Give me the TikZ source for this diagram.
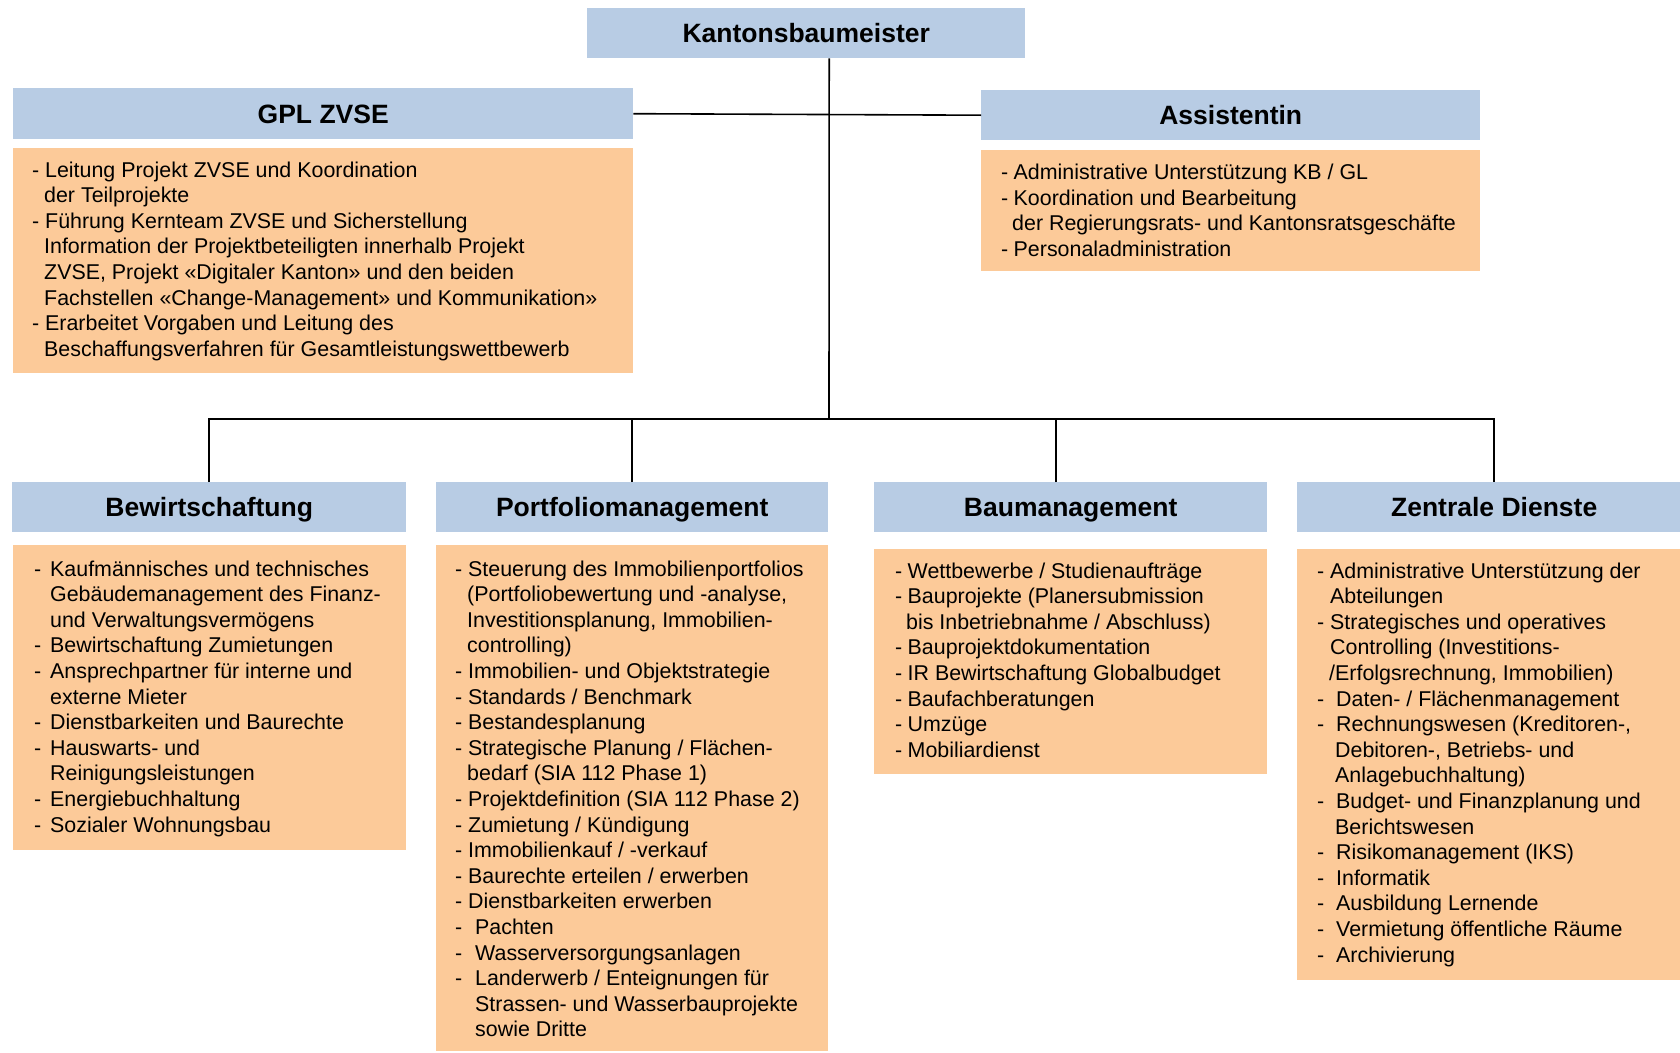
\documentclass[tikz,border=0pt]{standalone}
\usepackage{fontspec}
\setmainfont{Liberation Sans}
\usetikzlibrary{calc}
\definecolor{hdrblue}{RGB}{184,204,228}
\definecolor{bodyor}{RGB}{252,202,153}
\newcommand\Li[2]{\makebox[#1pt][l]{-}#2}
\newcommand\Lc[2]{\hspace*{#1pt}#2}
\begin{document}
\begin{tikzpicture}[x=1pt,y=-1pt,
  hdr/.style={fill=hdrblue, draw=none, inner sep=0pt, anchor=north west, minimum height=50pt, text height=19.4pt, text depth=0pt, font=\fontsize{26.5}{30}\selectfont\bfseries},
  bodybox/.style={fill=bodyor, draw=none, inner sep=0pt, anchor=north west},
  txt/.style={anchor=north west, inner sep=0pt, align=left, font=\fontsize{21.4}{25.6}\selectfont},
  conn/.style={draw=black, line width=1.6pt}]
\useasboundingbox (0,0) rectangle (1680,1052);
% headers
\node[hdr, minimum width=438pt, minimum height=50.5pt] (kb) at (587,7.5) {Kantonsbaumeister};
\node[hdr, minimum width=620pt, minimum height=51pt] (gpl) at (13,88) {GPL ZVSE};
\node[hdr, minimum width=499pt] (ass) at (981,90) {Assistentin};
\node[hdr, minimum width=394pt] (bew) at (12,482) {Bewirtschaftung};
\node[hdr, minimum width=392pt] (port) at (436,482) {Portfoliomanagement};
\node[hdr, minimum width=393pt] (bau) at (874,482) {Baumanagement};
\node[hdr, minimum width=394pt] (zd) at (1297,482) {Zentrale Dienste};
% body boxes
\node[bodybox, minimum width=620pt, minimum height=225pt] (gplb) at (13,148) {};
\node[bodybox, minimum width=499pt, minimum height=121pt] (assb) at (981,150) {};
\node[bodybox, minimum width=393pt, minimum height=305pt] (bewb) at (13,545) {};
\node[bodybox, minimum width=392pt, minimum height=506pt] (portb) at (436,545) {};
\node[bodybox, minimum width=393pt, minimum height=225pt] (baub) at (874,549) {};
\node[bodybox, minimum width=394pt, minimum height=431pt] (zdb) at (1297,549) {};
% texts
\node[txt] (gplt) at (32,161.4) {%
\Li{13}{Leitung Projekt ZVSE und Koordination}\\
\Lc{12}{der Teilprojekte}\\
\Li{13}{Führung Kernteam ZVSE und Sicherstellung}\\
\Lc{12}{Information der Projektbeteiligten innerhalb Projekt}\\
\Lc{12}{ZVSE, Projekt «Digitaler Kanton» und den beiden}\\
\Lc{12}{Fachstellen «Change-Management» und Kommunikation»}\\
\Li{13}{Erarbeitet Vorgaben und Leitung des}\\
\Lc{12}{Beschaffungsverfahren für Gesamtleistungswettbewerb}};
\node[txt] (asst) at (1001,163.9) {%
\Li{12.5}{Administrative Unterstützung KB / GL}\\
\Li{12.5}{Koordination und Bearbeitung}\\
\Lc{11}{der Regierungsrats- und Kantonsratsgeschäfte}\\
\Li{12.5}{Personaladministration}};
\node[txt] (bewt) at (34,560.4) {%
\Li{16}{Kaufmännisches und technisches}\\
\Lc{16}{Gebäudemanagement des Finanz-}\\
\Lc{16}{und Verwaltungsvermögens}\\
\Li{16}{Bewirtschaftung Zumietungen}\\
\Li{16}{Ansprechpartner für interne und}\\
\Lc{16}{externe Mieter}\\
\Li{16}{Dienstbarkeiten und Baurechte}\\
\Li{16}{Hauswarts- und}\\
\Lc{16}{Reinigungsleistungen}\\
\Li{16}{Energiebuchhaltung}\\
\Li{16}{Sozialer Wohnungsbau}};
\node[txt] (portt) at (455,560.4) {%
\Li{13}{Steuerung des Immobilienportfolios}\\
\Lc{12}{(Portfoliobewertung und -analyse,}\\
\Lc{12}{Investitionsplanung, Immobilien-}\\
\Lc{12}{controlling)}\\
\Li{13}{Immobilien- und Objektstrategie}\\
\Li{13}{Standards / Benchmark}\\
\Li{13}{Bestandesplanung}\\
\Li{13}{Strategische Planung / Flächen-}\\
\Lc{12}{bedarf (SIA 112 Phase 1)}\\
\Li{13}{Projektdefinition (SIA 112 Phase 2)}\\
\Li{13}{Zumietung / Kündigung}\\
\Li{13}{Immobilienkauf / -verkauf}\\
\Li{13}{Baurechte erteilen / erwerben}\\
\Li{13}{Dienstbarkeiten erwerben}\\
\Li{20}{Pachten}\\
\Li{20}{Wasserversorgungsanlagen}\\
\Li{20}{Landerwerb / Enteignungen für}\\
\Lc{20}{Strassen- und Wasserbauprojekte}\\
\Lc{20}{sowie Dritte}};
\node[txt] (baut) at (895,562.4) {%
\Li{12.5}{Wettbewerbe / Studienaufträge}\\
\Li{12.5}{Bauprojekte (Planersubmission}\\
\Lc{11}{bis Inbetriebnahme / Abschluss)}\\
\Li{12.5}{Bauprojektdokumentation}\\
\Li{12.5}{IR Bewirtschaftung Globalbudget}\\
\Li{12.5}{Baufachberatungen}\\
\Li{12.5}{Umzüge}\\
\Li{12.5}{Mobiliardienst}};
\node[txt] (zdt) at (1317,562.4) {%
\Li{13}{Administrative Unterstützung der}\\
\Lc{13}{Abteilungen}\\
\Li{13}{Strategisches und operatives}\\
\Lc{13}{Controlling (Investitions-}\\
\Lc{12}{/Erfolgsrechnung, Immobilien)}\\
\Li{19}{Daten- / Flächenmanagement}\\
\Li{19}{Rechnungswesen (Kreditoren-,}\\
\Lc{18}{Debitoren-, Betriebs- und}\\
\Lc{18}{Anlagebuchhaltung)}\\
\Li{19}{Budget- und Finanzplanung und}\\
\Lc{18}{Berichtswesen}\\
\Li{19}{Risikomanagement (IKS)}\\
\Li{19}{Informatik}\\
\Li{19}{Ausbildung Lernende}\\
\Li{19}{Vermietung öffentliche Räume}\\
\Li{19}{Archivierung}};
% connectors
\coordinate (j) at (829,419);
\coordinate (kbdown) at ([xshift=23pt]kb.south);
\coordinate (bautop) at ([xshift=-14.5pt]bau.north);
\draw[conn] (kbdown) -- (j);
\draw[conn] (gpl.east) -- (ass.west);
\draw[conn] (bew.north) |- (j) -| (zd.north);
\draw[conn] (port.north) -- (port.north |- j);
\draw[conn] (bautop) -- (bautop |- j);
\end{tikzpicture}
\end{document}
